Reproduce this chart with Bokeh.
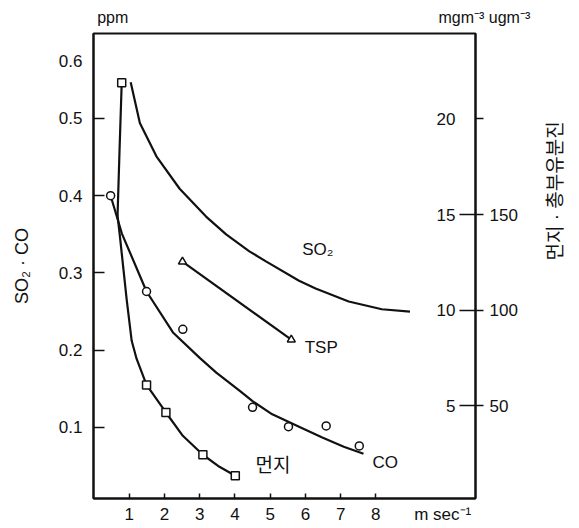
import math
from bokeh.plotting import figure
from bokeh.models import Range1d, LinearAxis, FixedTicker, Label
from bokeh.core.properties import value
from bokeh.embed import file_html
from bokeh.resources import INLINE

# ---------------- axis ranges / ticks ----------------
X_START, X_END = -0.016, 10.83
PPM_START, PPM_END = 0.008, 0.610
MG_START, MG_END = 0.152, 24.47
UG_START, UG_END = 1.52, 244.7

X_TICKS = [1, 2, 3, 4, 5, 6, 7, 8]
X_UNIT_POS = 9.9
X_UNIT_LABEL = "m sec⁻¹"
PPM_TICKS = [0.1, 0.2, 0.3, 0.4, 0.5]
PPM_TOP_POS = 0.575
PPM_TOP_LABEL = "0.6"
MG_TICKS = [5, 10, 15, 20]
UG_TICKS = [50, 100, 150]
UG_EXTRA_TICK = [200]
TOP_UNIT_POS = [0.53, 10.829]
TOP_UNIT_LABELS = ["ppm", "\u00a0\u00a0\u00a0\u00a0mgm⁻³ ugm⁻³"]
RIGHT_TITLE_POS = 0.316
RIGHT_TITLE = "먼지 · 총부유분진"

# ---------------- data ----------------
# SO2 (ppm) fitted curve
so2_x = [1.04, 1.30, 1.77, 2.43, 3.18, 3.75, 4.41, 4.88, 5.82, 6.29, 7.23, 8.17, 8.97]
so2_y = [0.547, 0.494, 0.451, 0.409, 0.373, 0.350, 0.328, 0.315, 0.290, 0.280, 0.263, 0.253, 0.250]

# CO (ppm) observations and fitted curve
co_obs_x = [0.47, 1.49, 2.52, 4.50, 5.52, 6.59, 7.53]
co_obs_y = [0.400, 0.276, 0.227, 0.126, 0.101, 0.102, 0.076]
co_fit_x = [0.47, 0.79, 1.49, 2.24, 3.00, 3.47, 4.12, 4.50, 5.06, 5.82, 6.48, 7.09, 7.65]
co_fit_y = [0.400, 0.351, 0.276, 0.223, 0.190, 0.171, 0.148, 0.134, 0.117, 0.101, 0.087, 0.075, 0.066]

# 먼지 (dust, mg m-3) observations and fitted curve
dust_obs_x = [0.785, 1.49, 2.04, 3.09, 4.01]
dust_obs_y = [21.89, 6.09, 4.65, 2.44, 1.34]
dust_fit_x = [0.785, 0.723, 0.667, 0.738, 0.836, 0.927, 1.068, 1.209, 1.49, 2.04, 2.52, 3.09, 3.56, 4.01]
dust_fit_y = [21.89, 18.35, 14.94, 13.79, 12.11, 10.54, 8.40, 7.45, 6.09, 4.65, 3.43, 2.44, 1.81, 1.34]

# TSP (ug m-3)
tsp_x = [2.51, 5.60]
tsp_y = [125.4, 84.6]

FONT = "Liberation Sans"
KFONT = "Noto Sans CJK KR"
INK = "#111111"

p = figure(width=579, height=528, output_backend="svg", toolbar_location=None,
           x_range=Range1d(X_START, X_END), y_range=Range1d(PPM_START, PPM_END),
           min_border_left=93, min_border_right=101, min_border_top=33, min_border_bottom=30)
p.extra_y_ranges = {"mg": Range1d(MG_START, MG_END), "ug": Range1d(UG_START, UG_END)}
p.grid.visible = False
p.outline_line_color = INK
p.outline_line_width = 2
p.background_fill_color = "white"
p.border_fill_color = "white"

# x axis
xa = p.xaxis[0]
xa.ticker = FixedTicker(ticks=X_TICKS + [X_UNIT_POS], minor_ticks=X_TICKS)
ovr = {t: str(t) for t in X_TICKS}
ovr[X_UNIT_POS] = X_UNIT_LABEL
xa.major_label_overrides = ovr
xa.major_tick_in = 0
xa.major_tick_out = 0
xa.minor_tick_in = 5
xa.minor_tick_out = 0
xa.major_label_standoff = 6
xa.axis_line_width = 2
xa.axis_line_color = INK
xa.minor_tick_line_color = INK
xa.minor_tick_line_width = 1.5
xa.major_label_text_font = FONT
xa.major_label_text_font_size = "17px"
xa.major_label_text_color = INK

# top "axis" carrying only the unit captions
ta = LinearAxis(ticker=FixedTicker(ticks=TOP_UNIT_POS, minor_ticks=[]))
ta.major_label_overrides = dict(zip(TOP_UNIT_POS, TOP_UNIT_LABELS))
ta.major_tick_in = 0
ta.major_tick_out = 0
ta.minor_tick_in = 0
ta.minor_tick_out = 0
ta.axis_line_color = None
ta.major_label_standoff = 8
ta.major_label_text_font = FONT
ta.major_label_text_font_size = "16px"
ta.major_label_text_color = INK
p.add_layout(ta, "above")

# left axis
ya = p.yaxis[0]
ya.ticker = FixedTicker(ticks=PPM_TICKS + [PPM_TOP_POS], minor_ticks=PPM_TICKS)
yovr = {t: str(t) for t in PPM_TICKS}
yovr[PPM_TOP_POS] = PPM_TOP_LABEL
ya.major_label_overrides = yovr
ya.major_tick_in = 0
ya.major_tick_out = 0
ya.minor_tick_in = 11
ya.minor_tick_out = 0
ya.minor_tick_line_color = INK
ya.minor_tick_line_width = 1.5
ya.major_label_standoff = 11
ya.axis_line_width = 2
ya.axis_line_color = INK
ya.major_label_text_font = FONT
ya.major_label_text_font_size = "17px"
ya.major_label_text_color = INK
ya.axis_label = "SO₂ · CO"
ya.axis_label_text_font = FONT
ya.axis_label_text_font_size = "18px"
ya.axis_label_text_font_style = "normal"
ya.axis_label_text_color = INK
ya.axis_label_standoff = 24

# right axis (ug m-3)
ra = LinearAxis(y_range_name="ug", ticker=FixedTicker(ticks=UG_TICKS, minor_ticks=UG_EXTRA_TICK))
ra.major_label_overrides = {t: str(t) for t in UG_TICKS}
ra.major_tick_in = 16
ra.major_tick_out = 8
ra.minor_tick_in = 0
ra.minor_tick_out = 8
ra.major_tick_line_width = 1.5
ra.minor_tick_line_width = 1.5
ra.major_tick_line_color = INK
ra.minor_tick_line_color = INK
ra.major_label_standoff = 6
ra.axis_line_width = 2
ra.axis_line_color = INK
ra.major_label_text_font = FONT
ra.major_label_text_font_size = "17px"
ra.major_label_text_color = INK
p.add_layout(ra, "right")

# outer right "axis" carrying the vertical title (reads bottom to top)
rt = LinearAxis(ticker=FixedTicker(ticks=[RIGHT_TITLE_POS], minor_ticks=[]))
rt.major_label_overrides = {RIGHT_TITLE_POS: RIGHT_TITLE}
rt.major_label_orientation = math.pi / 2
rt.major_tick_in = 0
rt.major_tick_out = 0
rt.minor_tick_in = 0
rt.minor_tick_out = 0
rt.axis_line_color = None
rt.major_label_standoff = 35
rt.major_label_text_font = FONT + ", " + KFONT
rt.major_label_text_font_size = "19px"
rt.major_label_text_color = INK
p.add_layout(rt, "right")

# inner mg labels
p.text(x=[X_END] * len(MG_TICKS), y=MG_TICKS, text=[str(t) for t in MG_TICKS],
       y_range_name="mg", x_offset=-20, text_align="right", text_baseline="middle",
       text_font=value(FONT), text_font_size="17px", text_color=INK)

# curves
p.line(so2_x, so2_y, line_color=INK, line_width=2.2)
p.line(co_fit_x, co_fit_y, line_color=INK, line_width=2.2)
p.line(dust_fit_x, dust_fit_y, line_color=INK, line_width=2.2, y_range_name="mg")
p.line(tsp_x, tsp_y, line_color=INK, line_width=2.2, y_range_name="ug")

# markers
p.scatter(co_obs_x, co_obs_y, marker="circle", size=8, fill_color="white",
          line_color=INK, line_width=1.5)
p.scatter(dust_obs_x, dust_obs_y, marker="square", size=8, fill_color="white",
          line_color=INK, line_width=1.5, y_range_name="mg")
p.scatter(tsp_x, tsp_y, marker="triangle", size=8, fill_color="white",
          line_color=INK, line_width=1.5, y_range_name="ug")

def lab(x, y, text, font=FONT, size="17px", **kw):
    p.add_layout(Label(x=x, y=y, text=text, text_font=font, text_font_size=size,
                       text_color=INK, **kw))

# curve labels
lab(6.35, 0.330, "SO₂", text_align="center", text_baseline="middle")
lab(6.45, 0.204, "TSP", text_align="center", text_baseline="middle")
lab(5.08, 0.053, "먼지", font=KFONT, size="19px", text_align="center", text_baseline="middle")
lab(8.27, 0.054, "CO", text_align="center", text_baseline="middle")

open("out.html", "w").write(file_html(p, INLINE))
